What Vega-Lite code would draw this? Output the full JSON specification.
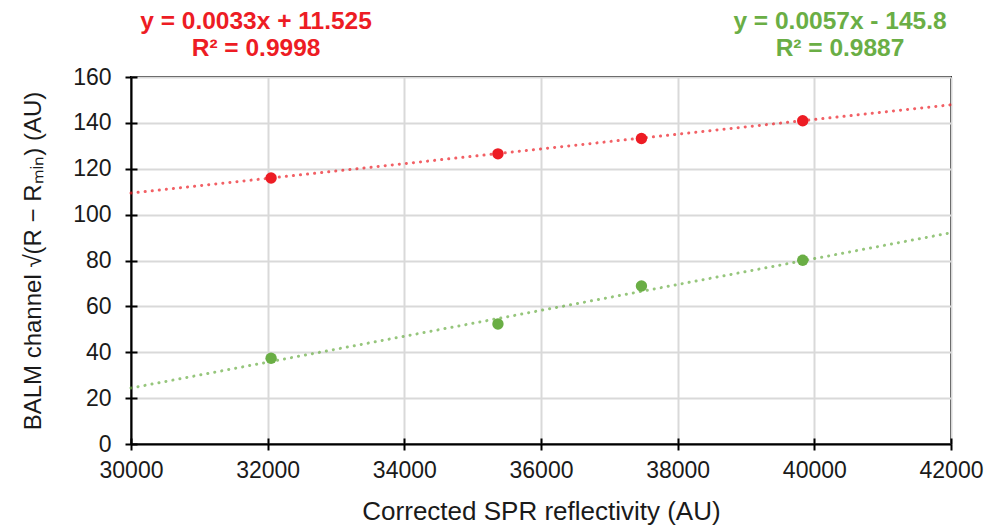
{
  "$schema": "https://vega.github.io/schema/vega-lite/v6.json",
  "width": 820,
  "height": 367,
  "autosize": {"type": "none"},
  "padding": {"left": 131, "top": 77, "right": 39, "bottom": 84},
  "background": "white",
  "config": {
    "font": "Liberation Sans",
    "view": {"stroke": "black", "strokeWidth": 2},
    "axis": {
      "domainColor": "black", "domainWidth": 2,
      "tickColor": "black", "tickWidth": 2, "tickSize": 6,
      "gridColor": "#d9d9d9", "gridWidth": 2,
      "labelFont": "Liberation Sans", "labelFontSize": 23, "labelColor": "#1a1a1a",
      "labelFlush": false, "labelOverlap": false,
      "titleFont": "Liberation Sans", "titleFontWeight": "normal", "titleColor": "#1a1a1a"
    }
  },
  "datasets": {
    "points": [
      {"x": 32050, "y": 116.0, "series": "red"},
      {"x": 35370, "y": 126.5, "series": "red"},
      {"x": 37470, "y": 133.2, "series": "red"},
      {"x": 39830, "y": 140.9, "series": "red"},
      {"x": 32050, "y": 37.4, "series": "green"},
      {"x": 35370, "y": 52.3, "series": "green"},
      {"x": 37470, "y": 68.9, "series": "green"},
      {"x": 39830, "y": 80.1, "series": "green"}
    ],
    "trend": [
      {"x": 30000, "y": 109.4, "series": "red"},
      {"x": 42000, "y": 147.9, "series": "red"},
      {"x": 30000, "y": 24.4, "series": "green"},
      {"x": 42000, "y": 92.1, "series": "green"}
    ],
    "labels": [
      {"x": 31830, "y": 184.0, "series": "red", "text": "y = 0.0033x + 11.525"},
      {"x": 31830, "y": 172.4, "series": "red", "text": "R² = 0.9998"},
      {"x": 40376, "y": 184.0, "series": "green", "text": "y = 0.0057x - 145.8"},
      {"x": 40376, "y": 172.4, "series": "green", "text": "R² = 0.9887"}
    ]
  },
  "resolve": {"axis": {"x": "independent", "y": "independent"}},
  "layer": [
    {
      "data": {"name": "trend"},
      "mark": {"type": "line", "strokeDash": [0.1, 7], "strokeWidth": 3, "strokeCap": "round", "opacity": 0.7, "clip": false},
      "encoding": {
        "x": {"field": "x", "type": "quantitative", "scale": {"domain": [30000, 42000], "nice": false},
          "axis": {"orient": "bottom", "title": "Corrected SPR reflectivity (AU)", "titleFontSize": 26, "values": [30000, 32000, 34000, 36000, 38000, 40000, 42000], "format": "d", "labelPadding": 9, "titlePadding": 16}},
        "y": {"field": "y", "type": "quantitative", "scale": {"domain": [0, 160], "nice": false},
          "axis": {"orient": "left", "title": "BALM channel √(R − Rₘᵢₙ) (AU)", "titleFontSize": 24, "values": [0, 20, 40, 60, 80, 100, 120, 140, 160], "labelPadding": 14, "titlePadding": 27}},
        "color": {"field": "series", "type": "nominal", "scale": {"domain": ["red", "green"], "range": ["#ED1C24", "#6AAE45"]}, "legend": null},
        "detail": {"field": "series"}
      }
    },
    {
      "data": {"name": "points"},
      "mark": {"type": "point", "opacity": 0},
      "encoding": {
        "x": {"field": "x", "type": "quantitative", "scale": {"domain": [30000, 42000], "nice": false},
          "axis": {"orient": "bottom", "values": [30000, 32000, 34000, 36000, 38000, 40000, 42000], "tickSize": -6, "labels": false, "domain": false, "grid": false, "title": null}},
        "y": {"field": "y", "type": "quantitative", "scale": {"domain": [0, 160], "nice": false},
          "axis": {"orient": "left", "values": [0, 20, 40, 60, 80, 100, 120, 140, 160], "tickSize": -6, "labels": false, "domain": false, "grid": false, "title": null}}
      }
    },
    {
      "data": {"name": "points"},
      "mark": {"type": "circle", "size": 130, "opacity": 1},
      "encoding": {
        "x": {"field": "x", "type": "quantitative", "scale": {"domain": [30000, 42000], "nice": false}, "axis": null},
        "y": {"field": "y", "type": "quantitative", "scale": {"domain": [0, 160], "nice": false}, "axis": null},
        "color": {"field": "series", "type": "nominal", "legend": null}
      }
    },
    {
      "data": {"name": "labels"},
      "mark": {"type": "text", "fontWeight": "bold", "fontSize": 24.5, "font": "Liberation Sans", "align": "center", "baseline": "middle"},
      "encoding": {
        "x": {"field": "x", "type": "quantitative", "scale": {"domain": [30000, 42000], "nice": false}, "axis": null},
        "y": {"field": "y", "type": "quantitative", "scale": {"domain": [0, 160], "nice": false}, "axis": null},
        "text": {"field": "text"},
        "color": {"field": "series", "type": "nominal", "legend": null}
      }
    }
  ]
}
